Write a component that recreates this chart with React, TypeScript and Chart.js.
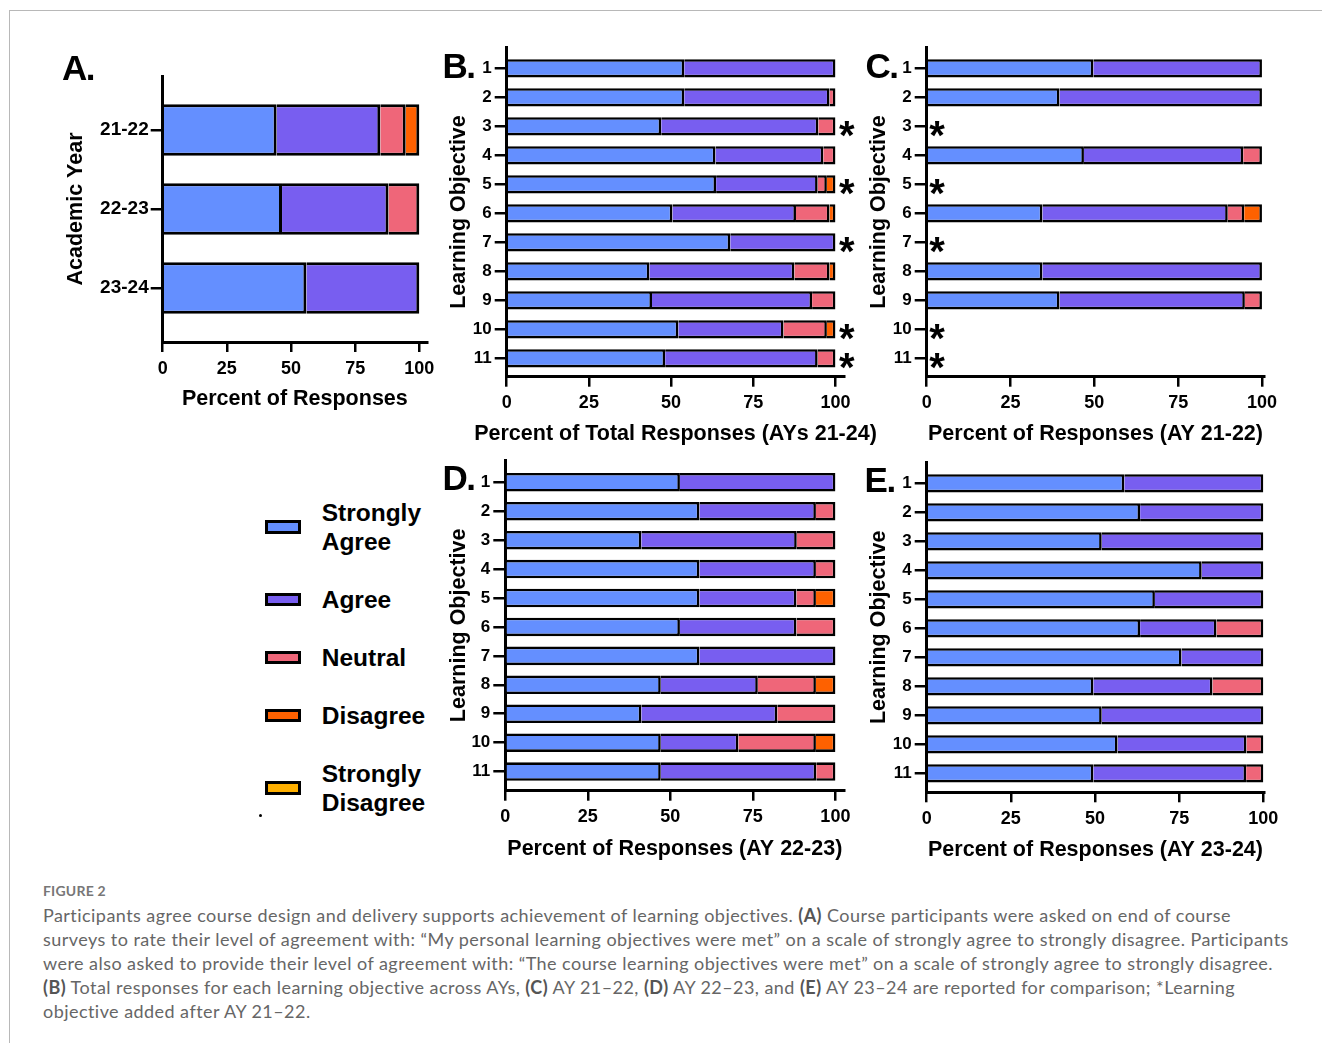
import React, { useEffect, useRef } from 'react';
import { Chart, registerables } from 'chart.js';

Chart.register(...registerables);

const FONT = '"Liberation Sans", Arial, Helvetica, sans-serif';

// ---------- data ----------
const responseLevels = ['Strongly Agree', 'Agree', 'Neutral', 'Disagree', 'Strongly Disagree'];
const levelColors = ['#648FFF', '#785EF0', '#EF6679', '#FE6100', '#FFB000'];
const percentTicks = [0, 25, 50, 75, 100];

// Panel A: by academic year
const yearLabels = ['21-22', '22-23', '23-24'];
const yearStronglyAgree = [44.4, 46.5, 56];
const yearAgree = [40.4, 41.5, 44];
const yearNeutral = [9.9, 12, 0];
const yearDisagree = [5.3, 0, 0];
const yearStronglyDisagree = [0, 0, 0];

const objectiveLabels = ['1', '2', '3', '4', '5', '6', '7', '8', '9', '10', '11'];
const addedObjectives = [3, 5, 7, 10, 11];

// Panel B: total responses AYs 21-24
const totalStronglyAgree = [54, 54, 47, 63.5, 63.7, 50.4, 68, 43.4, 44.2, 52.2, 48.2];
const totalAgree = [46, 44.2, 47.8, 32.8, 30.9, 37.6, 32, 44.1, 48.7, 32, 46.4];
const totalNeutral = [0, 1.8, 5.2, 3.7, 2.8, 10.2, 0, 10.7, 7.1, 13.2, 5.4];
const totalDisagree = [0, 0, 0, 0, 2.6, 1.8, 0, 1.8, 0, 2.6, 0];
const totalStronglyDisagree = [0, 0, 0, 0, 0, 0, 0, 0, 0, 0, 0];

// Panel C: AY 21-22 (null = objective not yet offered)
const ay2122StronglyAgree = [49.7, 39.6, null, 46.9, null, 34.5, null, 34.5, 39.6, null, null];
const ay2122Agree = [50.3, 60.4, null, 47.5, null, 55.3, null, 65.5, 55.3, null, null];
const ay2122Neutral = [0, 0, null, 5.6, null, 4.9, null, 0, 5.1, null, null];
const ay2122Disagree = [0, 0, null, 0, null, 5.3, null, 0, 0, null, null];
const ay2122StronglyDisagree = [0, 0, null, 0, null, 0, null, 0, 0, null, null];

// Panel D: AY 22-23
const ay2223StronglyAgree = [52.9, 58.8, 41.2, 58.8, 58.8, 52.9, 58.8, 47.1, 41.2, 47.1, 47.1];
const ay2223Agree = [47.1, 35.3, 47.1, 35.3, 29.4, 35.3, 41.2, 29.4, 41.2, 23.5, 47.1];
const ay2223Neutral = [0, 5.9, 11.7, 5.9, 5.9, 11.8, 0, 17.6, 17.6, 23.5, 5.8];
const ay2223Disagree = [0, 0, 0, 0, 5.9, 0, 0, 5.9, 0, 5.9, 0];
const ay2223StronglyDisagree = [0, 0, 0, 0, 0, 0, 0, 0, 0, 0, 0];

// Panel E: AY 23-24
const ay2324StronglyAgree = [58.7, 63.4, 52, 81.7, 67.8, 63.4, 75.7, 49.5, 52, 56.7, 49.5];
const ay2324Agree = [41.3, 36.6, 48, 18.3, 32.2, 22.7, 24.3, 35.4, 48, 38.3, 45.4];
const ay2324Neutral = [0, 0, 0, 0, 0, 13.9, 0, 15.1, 0, 5, 5.1];
const ay2324Disagree = [0, 0, 0, 0, 0, 0, 0, 0, 0, 0, 0];
const ay2324StronglyDisagree = [0, 0, 0, 0, 0, 0, 0, 0, 0, 0, 0];

// ---------- panel layout ----------
type PanelSpec = {
  id: string;
  letter: string;
  letterPos: { left: number; top: number };
  area: { l: number; r: number; t: number; b: number };
  yTitleX: number;
  xTitleY: number;
  labels: string[];
  series: (number | null)[][];
  yMin: number;
  yMax: number;
  xMax: number;
  barPct: number;
  barBorder: number;
  xTitle: string;
  yTitle: string;
  yTickSize: number;
  yTickPad: number;
  markers?: number[];
  markerAt?: number;
  markerDx?: number;
};

const TITLE_SIZE = 21.5;
const TITLE_LH = TITLE_SIZE * 1.2;
const PAD_TOP = 20;
const PAD_RIGHT = 42;

const panels: PanelSpec[] = [
  {
    id: 'A', letter: 'A.', letterPos: { left: 62, top: 49.5 },
    area: { l: 162.7, r: 427, t: 76, b: 342 },
    yTitleX: 76, xTitleY: 399,
    labels: yearLabels,
    series: [yearStronglyAgree, yearAgree, yearNeutral, yearDisagree, yearStronglyDisagree],
    yMin: 0.316, yMax: 3.683, xMax: 103, barPct: 0.65, barBorder: 3,
    xTitle: 'Percent of Responses', yTitle: 'Academic Year', yTickSize: 19, yTickPad: 2,
  },
  {
    id: 'B', letter: 'B.', letterPos: { left: 442.6, top: 47.5 },
    area: { l: 506.7, r: 844.3, t: 47.3, b: 376.7 },
    yTitleX: 459.5, xTitleY: 434,
    labels: objectiveLabels,
    series: [totalStronglyAgree, totalAgree, totalNeutral, totalDisagree, totalStronglyDisagree],
    yMin: 0.276, yMax: 11.635, xMax: 102.7, barPct: 0.63, barBorder: 2.6,
    xTitle: 'Percent of Total Responses (AYs 21-24)', yTitle: 'Learning Objective', yTickSize: 17, yTickPad: 3,
    markers: addedObjectives, markerAt: 100, markerDx: 3.5,
  },
  {
    id: 'C', letter: 'C.', letterPos: { left: 865.4, top: 47.5 },
    area: { l: 926.7, r: 1264.3, t: 47.3, b: 376.7 },
    yTitleX: 879.3, xTitleY: 434,
    labels: objectiveLabels,
    series: [ay2122StronglyAgree, ay2122Agree, ay2122Neutral, ay2122Disagree, ay2122StronglyDisagree],
    yMin: 0.276, yMax: 11.635, xMax: 100.7, barPct: 0.63, barBorder: 2.6,
    xTitle: 'Percent of Responses (AY 21-22)', yTitle: 'Learning Objective', yTickSize: 17, yTickPad: 3,
    markers: addedObjectives, markerAt: 0, markerDx: 2.5,
  },
  {
    id: 'D', letter: 'D.', letterPos: { left: 442.6, top: 460.2 },
    area: { l: 505.3, r: 844.3, t: 460, b: 790.7 },
    yTitleX: 459.5, xTitleY: 849,
    labels: objectiveLabels,
    series: [ay2223StronglyAgree, ay2223Agree, ay2223Neutral, ay2223Disagree, ay2223StronglyDisagree],
    yMin: 0.23, yMax: 11.66, xMax: 102.7, barPct: 0.64, barBorder: 2.6,
    xTitle: 'Percent of Responses (AY 22-23)', yTitle: 'Learning Objective', yTickSize: 17, yTickPad: 3,
  },
  {
    id: 'E', letter: 'E.', letterPos: { left: 864.6, top: 461.9 },
    area: { l: 926.7, r: 1264.3, t: 462.3, b: 792.3 },
    yTitleX: 879.3, xTitleY: 850,
    labels: objectiveLabels,
    series: [ay2324StronglyAgree, ay2324Agree, ay2324Neutral, ay2324Disagree, ay2324StronglyDisagree],
    yMin: 0.276, yMax: 11.655, xMax: 100.3, barPct: 0.63, barBorder: 2.6,
    xTitle: 'Percent of Responses (AY 23-24)', yTitle: 'Learning Objective', yTickSize: 17, yTickPad: 3,
  },
];

function geometry(p: PanelSpec) {
  const left = Math.round(p.yTitleX - TITLE_LH / 2);
  const top = Math.round(p.area.t - PAD_TOP);
  const right = Math.round(p.area.r + PAD_RIGHT);
  const bottom = Math.round(p.xTitleY + TITLE_LH / 2);
  return {
    left, top, width: right - left, height: bottom - top,
    yW: p.area.l - left, xH: bottom - p.area.b,
    padTop: p.area.t - top, padRight: right - p.area.r,
  };
}

// asterisks for objectives added after AY 21-22
const markerPlugin = {
  id: 'objectiveMarkers',
  afterDatasetsDraw(chart: any, _args: any, opts: any) {
    if (!opts || !opts.rows || !opts.rows.length) return;
    const { ctx } = chart;
    const x = chart.scales.x;
    const y = chart.scales.y;
    const size = opts.size || 40;
    ctx.save();
    ctx.font = `bold ${size}px ${FONT}`;
    ctx.fillStyle = '#000';
    ctx.textAlign = 'left';
    ctx.textBaseline = 'alphabetic';
    opts.rows.forEach((r: number) => {
      ctx.fillText('*', x.getPixelForValue(opts.at) + opts.dx, y.getPixelForValue(r) + size * 0.57);
    });
    ctx.restore();
  },
};

// axis titles drawn without Chart.js's maxWidth squeeze
const axisTitlePlugin = {
  id: 'axisTitles',
  afterDraw(chart: any, _args: any, opts: any) {
    if (!opts) return;
    const { ctx, chartArea } = chart;
    ctx.save();
    ctx.font = `bold ${opts.size}px ${FONT}`;
    ctx.fillStyle = '#000';
    ctx.textAlign = 'center';
    ctx.textBaseline = 'middle';
    ctx.fillText(opts.xText, (chartArea.left + chartArea.right) / 2, opts.xY);
    ctx.translate(opts.yX, (chartArea.top + chartArea.bottom) / 2);
    ctx.rotate(-Math.PI / 2);
    ctx.fillText(opts.yText, 0, 0);
    ctx.restore();
  },
};

function PanelChart({ p }: { p: PanelSpec }) {
  const ref = useRef<HTMLCanvasElement>(null);
  const g = geometry(p);
  useEffect(() => {
    const canvas = ref.current;
    if (!canvas) return;
    const datasets = responseLevels.map((level, k) => ({
      label: level,
      data: p.series[k]
        .map((v, i) => (v ? { x: v, y: i + 1 } : null))
        .filter((d) => d !== null),
      backgroundColor: levelColors[k],
      borderColor: '#000',
      borderWidth: p.barBorder,
      borderSkipped: 'start',
      inflateAmount: 0,
      categoryPercentage: 1,
      barPercentage: p.barPct,
    }));
    const tickFont = { family: FONT, size: 18, weight: 'bold' as const };
    const chart = new Chart(canvas, {
      type: 'bar',
      data: { datasets: datasets as any },
      plugins: [markerPlugin as any, axisTitlePlugin as any],
      options: {
        animation: false,
        responsive: false,
        devicePixelRatio: 1,
        indexAxis: 'y',
        events: [],
        layout: { padding: { top: g.padTop, right: g.padRight, left: 0, bottom: 0 } },
        plugins: {
          legend: { display: false },
          tooltip: { enabled: false },
          objectiveMarkers: { rows: p.markers || [], at: p.markerAt ?? 100, dx: p.markerDx ?? 0, size: 40 },
          axisTitles: {
            size: TITLE_SIZE, xText: p.xTitle, yText: p.yTitle,
            xY: p.xTitleY - g.top, yX: p.yTitleX - g.left,
          },
        } as any,
        scales: {
          x: {
            type: 'linear',
            min: 0,
            max: p.xMax,
            stacked: true,
            offset: false,
            afterBuildTicks: (s: any) => {
              s.ticks = percentTicks.map((v) => ({ value: v }));
            },
            afterFit: (s: any) => {
              s.height = g.xH;
            },
            grid: {
              display: true, drawOnChartArea: false, drawTicks: true, tickLength: 10, offset: false,
              color: '#000', lineWidth: 2.5, tickColor: '#000', tickWidth: 2.5,
            },
            border: { display: true, color: '#000', width: 3 },
            ticks: {
              color: '#000', font: tickFont, padding: 6, autoSkip: false, maxRotation: 0,
              callback: (v: any) => String(v),
            },
            title: { display: false },
          },
          y: {
            type: 'linear',
            min: p.yMin,
            max: p.yMax,
            reverse: true,
            stacked: true,
            offset: false,
            afterBuildTicks: (s: any) => {
              s.ticks = p.labels.map((_, i) => ({ value: i + 1 }));
            },
            afterFit: (s: any) => {
              s.width = g.yW;
            },
            grid: {
              display: true, drawOnChartArea: false, drawTicks: true, tickLength: 12, offset: false,
              color: '#000', lineWidth: 2.5, tickColor: '#000', tickWidth: 2.5,
            },
            border: { display: true, color: '#000', width: 3 },
            ticks: {
              color: '#000', font: { family: FONT, size: p.yTickSize, weight: 'bold' }, padding: p.yTickPad,
              autoSkip: false,
              callback: (v: any) => p.labels[Math.round(Number(v)) - 1] ?? '',
            },
            title: { display: false },
          },
        },
      } as any,
    });
    return () => chart.destroy();
  }, []);
  return (
    <canvas
      ref={ref}
      width={g.width}
      height={g.height}
      style={{ position: 'absolute', left: g.left, top: g.top, width: g.width, height: g.height }}
    />
  );
}

export default function App() {
  const capFont = 'Lato, "Open Sans", "Noto Sans", sans-serif';
  const b = (t: string) => <span style={{ fontWeight: 700, color: '#555' }}>{t}</span>;
  return (
    <div
      style={{
        position: 'absolute', left: 0, top: 0, width: 1322, height: 1043,
        background: '#fff', overflow: 'hidden', fontFamily: FONT,
      }}
    >
      <div
        style={{
          position: 'absolute', left: 9, top: 10, width: 1322, height: 1043,
          borderTop: '1px solid #b8b8b8', borderLeft: '1px solid #b8b8b8',
        }}
      />
      {panels.map((p) => (
        <PanelChart key={p.id} p={p} />
      ))}
      {panels.map((p) => (
        <div
          key={'L' + p.id}
          style={{
            position: 'absolute', left: p.letterPos.left, top: p.letterPos.top,
            fontSize: 35, lineHeight: '35px', fontWeight: 700, color: '#000', whiteSpace: 'nowrap',
            letterSpacing: -1.5,
          }}
        >
          {p.letter}
        </div>
      ))}
      <div
        style={{
          position: 'absolute', left: 265, top: 498, display: 'flex',
          flexDirection: 'column', gap: 29,
        }}
      >
        {responseLevels.map((lvl, k) => (
          <div key={lvl} style={{ display: 'flex', alignItems: 'center' }}>
            <div
              style={{
                width: 36, height: 13.5, boxSizing: 'border-box', border: '3px solid #000',
                background: levelColors[k], flex: '0 0 auto',
              }}
            />
            <div
              style={{
                marginLeft: 20.7, fontSize: 24.5, lineHeight: '29px', fontWeight: 700, color: '#000',
              }}
            >
              {lvl.split(' ').map((w, i) => (
                <div key={i}>{w}</div>
              ))}
            </div>
          </div>
        ))}
      </div>
      <div
        style={{
          position: 'absolute', left: 258.5, top: 813.5, width: 3, height: 3,
          borderRadius: 2, background: '#000',
        }}
      />
      <div
        style={{
          position: 'absolute', left: 43, top: 883, fontFamily: capFont, fontSize: 14,
          lineHeight: '16px', fontWeight: 700, color: '#777', letterSpacing: 0.2,
        }}
      >
        FIGURE 2
      </div>
      <div
        style={{
          position: 'absolute', left: 43, top: 903, fontFamily: capFont, fontSize: 18,
          lineHeight: '24px', color: '#666', whiteSpace: 'nowrap', letterSpacing: 0.45,
        }}
      >
        <div>
          Participants agree course design and delivery supports achievement of learning objectives. {b('(A)')} Course
          participants were asked on end of course
        </div>
        <div>
          surveys to rate their level of agreement with: “My personal learning objectives were met” on a scale of
          strongly agree to strongly disagree. Participants
        </div>
        <div>
          were also asked to provide their level of agreement with: “The course learning objectives were met” on a
          scale of strongly agree to strongly disagree.
        </div>
        <div>
          {b('(B)')} Total responses for each learning objective across AYs, {b('(C)')} AY 21–22, {b('(D)')} AY 22–23,
          and {b('(E)')} AY 23–24 are reported for comparison; *Learning
        </div>
        <div>objective added after AY 21–22.</div>
      </div>
    </div>
  );
}
